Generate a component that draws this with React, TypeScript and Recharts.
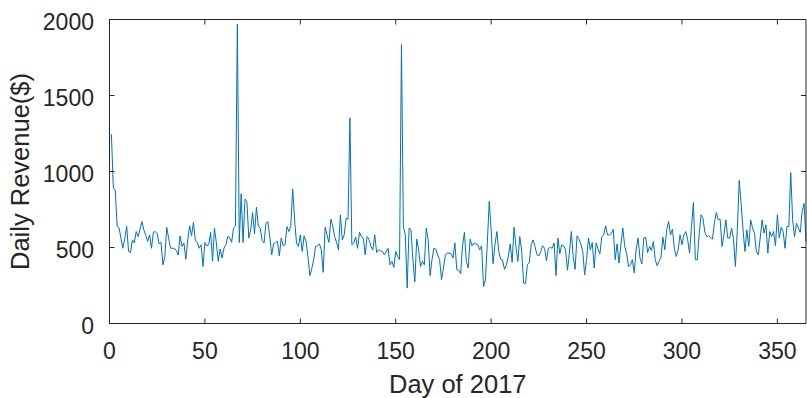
import React from 'react';
import { LineChart, Line, XAxis, YAxis } from 'recharts';

// daily revenue, day 1 .. day 365
const revenueJan = [
  1245, 890, 880, 640, 630, 560, 495, 560, 640, 474,
  467, 550, 530, 605, 572, 620, 671, 616, 580, 540,
  583, 495, 600, 605, 590, 524, 533, 386, 440, 633,
  560, 495, 495, 495, 480, 450, 577, 507, 530, 422,
  550, 643, 577, 665, 546, 533, 495, 518, 375, 533,
];
const revenueFeb = [
  511, 518, 600, 409, 628, 530, 409, 490, 430, 495,
  520, 572, 565, 533, 628, 640, 1970, 533, 853, 533,
  818, 803, 562, 616, 730, 590, 766, 638, 628, 546,
  530, 660, 671, 568, 452, 524, 533, 540, 445, 562,
  511, 518, 638, 605, 638, 884, 682, 530, 507, 583,
];
const revenueApr = [
  474, 577, 540, 441, 315, 360, 420, 507, 511, 524,
  485, 337, 633, 583, 533, 686, 643, 572, 533, 485,
  715, 550, 583, 693, 686, 1353, 518, 530, 568, 495,
  600, 572, 562, 452, 572, 555, 507, 485, 583, 467,
  485, 478, 474, 452, 474, 495, 386, 409, 369, 474,
];
const revenueJun = [
  441, 420, 1835, 638, 583, 233, 628, 616, 420, 273,
  555, 485, 375, 409, 386, 628, 550, 315, 420, 495,
  490, 450, 420, 288, 365, 452, 463, 463, 459, 430,
  530, 354, 350, 328, 511, 600, 409, 365, 555, 511,
  530, 524, 518, 485, 511, 243, 288, 530, 803, 616,
];
const revenueJul = [
  393, 518, 605, 474, 422, 418, 356, 386, 441, 524,
  402, 633, 507, 409, 572, 480, 266, 262, 386, 402,
  518, 550, 507, 452, 445, 474, 511, 495, 413, 495,
  500, 495, 530, 315, 562, 459, 518, 511, 485, 350,
  463, 605, 441, 356, 577, 555, 524, 474, 320, 420,
];
const revenueSep = [
  562, 485, 533, 365, 530, 490, 459, 572, 583, 643,
  583, 583, 594, 620, 420, 524, 397, 518, 628, 507,
  459, 375, 386, 420, 332, 490, 562, 430, 393, 562,
  568, 467, 507, 480, 540, 420, 380, 409, 437, 568,
  485, 616, 671, 583, 620, 495, 441, 485, 583, 518,
  583,
];
const revenueNov = [
  605, 550, 463, 638, 796, 422, 418, 583,
  715, 693, 600, 572, 577, 568, 555, 660, 730, 682,
  686, 507, 583, 682, 562, 562, 628, 555, 375, 616,
  941, 790, 616, 474, 616, 507, 682, 628, 594, 474,
  452, 562, 682, 594, 649, 463, 605, 572, 605, 511,
  715,
];
const revenueDec = [562, 633, 605, 495, 638, 638, 993, 682, 572, 660, 628, 600, 739, 790, 540];

const revenue = [
  ...revenueJan, ...revenueFeb, ...revenueApr, ...revenueJun,
  ...revenueJul, ...revenueSep, ...revenueNov, ...revenueDec,
];
const days = revenue.map((_, i) => i + 1);

const xTicks = [0, 50, 100, 150, 200, 250, 300, 350];
const yTicks = [0, 500, 1000, 1500, 2000];

const data = days.map((day, i) => ({ day, revenue: revenue[i] }));

const FONT = '"Liberation Sans", Arial, Helvetica, sans-serif';
const INK = '#262626';

const XTick = (props: any) => (
  <text x={props.x} y={props.y} textAnchor="middle" fontFamily={FONT} fontSize={23} fill={INK}>
    {props.payload.value}
  </text>
);

const YTick = (props: any) => (
  <text x={props.x} y={props.y} dy={10} textAnchor="end" fontFamily={FONT} fontSize={23} fill={INK}>
    {props.payload.value}
  </text>
);

const XLabel = (props: any) => {
  const vb = props.viewBox;
  return (
    <text x={vb.x + vb.width / 2} y={vb.y + 69.5} textAnchor="middle" fontFamily={FONT} fontSize={25.5} fill={INK}>
      Day of 2017
    </text>
  );
};

const YLabel = (props: any) => {
  const vb = props.viewBox;
  const cx = vb.x + 28.5;
  const cy = vb.y + vb.height / 2;
  return (
    <text x={cx} y={cy} transform={`rotate(-90, ${cx}, ${cy})`} textAnchor="middle" fontFamily={FONT} fontSize={25.5} fill={INK}>
      Daily Revenue($)
    </text>
  );
};

const Blank = () => <g />;

export default function App() {
  return (
    <div style={{ position: 'absolute', left: 0, top: 0, background: '#fff' }}>
      <LineChart width={807} height={398} data={data} margin={{ top: 18.5, right: 0, bottom: 0, left: 0 }}>
        <XAxis
          dataKey="day"
          type="number"
          domain={[0, 365]}
          ticks={xTicks}
          height={74.5}
          stroke={INK}
          tickSize={-5}
          tickMargin={40.5}
          tick={<XTick />}
          label={<XLabel />}
        />
        <XAxis
          xAxisId="top"
          orientation="top"
          dataKey="day"
          type="number"
          domain={[0, 365]}
          ticks={xTicks}
          height={1}
          stroke={INK}
          tickSize={-5}
          tick={<Blank />}
        />
        <YAxis
          type="number"
          domain={[0, 2000]}
          ticks={yTicks}
          width={109.5}
          stroke={INK}
          tickSize={-5}
          tickMargin={20.5}
          tick={<YTick />}
          label={<YLabel />}
        />
        <YAxis
          yAxisId="right"
          orientation="right"
          type="number"
          domain={[0, 2000]}
          ticks={yTicks}
          width={1}
          stroke={INK}
          tickSize={-5}
          tick={<Blank />}
        />
        <Line
          dataKey="revenue"
          type="linear"
          stroke="#0072BD"
          strokeWidth={1}
          dot={false}
          activeDot={false}
          isAnimationActive={false}
        />
        <Line
          xAxisId="top"
          yAxisId="right"
          dataKey="revenue"
          type="linear"
          stroke="none"
          dot={false}
          activeDot={false}
          legendType="none"
          isAnimationActive={false}
        />
      </LineChart>
    </div>
  );
}
